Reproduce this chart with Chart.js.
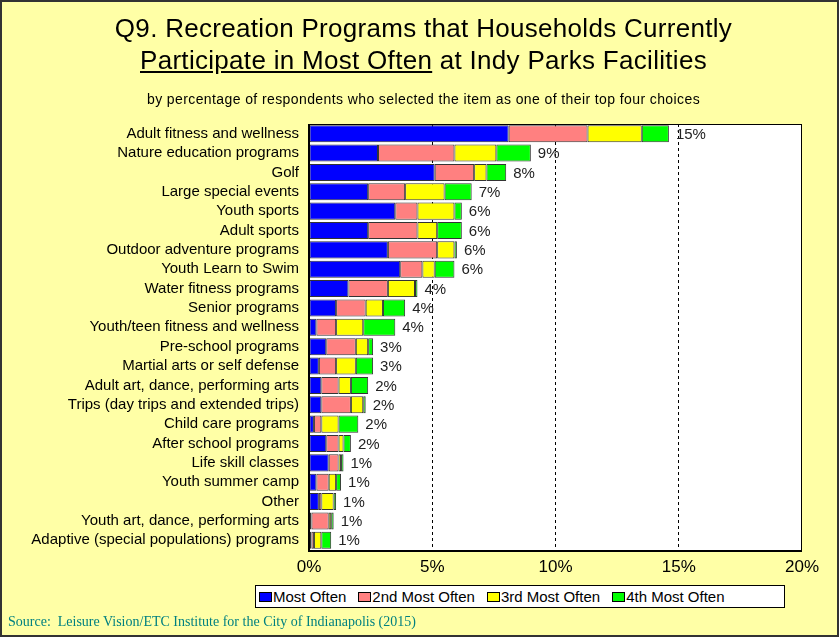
<!DOCTYPE html>
<html>
<head>
<meta charset="utf-8">
<script src="https://cdn.jsdelivr.net/npm/chart.js@4/dist/chart.umd.min.js"></script>
<style>
  body { margin: 0; }
  #wrap { position: relative; width: 839px; height: 637px; background: #FFFFA6; overflow: hidden; font-family: Arial, "Liberation Sans", sans-serif; }
  #frame { position: absolute; left: 0; top: 0; width: 839px; height: 637px; box-sizing: border-box; border: 2px solid #333; pointer-events: none; }
  canvas { position: absolute; left: 0; top: 0; }
  .title { position: absolute; left: 4px; width: 839px; text-align: center; font-size: 26px; letter-spacing: 0.3px; line-height: 32px; color: #000; }
  .sub { position: absolute; left: 4px; width: 839px; top: 90px; text-align: center; font-size: 14px; letter-spacing: 0.4px; line-height: 18px; color: #000; }
  #legend { position: absolute; left: 255px; top: 585px; width: 530px; height: 23px; box-sizing: border-box; background: #fff; border: 1px solid #000; display: flex; align-items: center; padding-left: 3px; gap: 12px; font-size: 15px; color: #000; }
  #legend span.sw { display: inline-block; width: 11px; height: 8px; border: 1px solid #000; margin-right: 1px; vertical-align: middle; position: relative; top: -1px; }
  #source { position: absolute; left: 8px; top: 614px; font-family: "Liberation Serif", "Times New Roman", serif; font-size: 14px; color: #008080; white-space: pre; }
</style>
</head>
<body>
<div id="wrap">
  <canvas id="chart" width="839" height="637"></canvas>
  <div class="title" style="top:12px">Q9. Recreation Programs that Households Currently</div>
  <div class="title" style="top:44px"><u>Participate in Most Often</u> at Indy Parks Facilities</div>
  <div class="sub">by percentage of respondents who selected the item as one of their top four choices</div>
  <div id="legend"></div>
  <div id="source">Source:  Leisure Vision/ETC Institute for the City of Indianapolis (2015)</div>
  <div id="frame"></div>
</div>
<script>
// Categories, top to bottom
const categories = [
    'Adult fitness and wellness',
    'Nature education programs',
    'Golf',
    'Large special events',
    'Youth sports',
    'Adult sports',
    'Outdoor adventure programs',
    'Youth Learn to Swim',
    'Water fitness programs',
    'Senior programs',
    'Youth/teen fitness and wellness',
    'Pre-school programs',
    'Martial arts or self defense',
    'Adult art, dance, performing arts',
    'Trips (day trips and extended trips)',
    'Child care programs',
    'After school programs',
    'Life skill classes',
    'Youth summer camp',
    'Other',
    'Youth art, dance, performing arts',
    'Adaptive (special populations) programs'
];

// Percent of respondents, per choice rank
const mostOften   = [8.1, 2.8, 5.1, 2.4, 3.5, 2.4, 3.2, 3.7, 1.6, 1.1, 0.3, 0.7, 0.4, 0.5, 0.5, 0.2, 0.7, 0.8, 0.3, 0.4, 0.1, 0.1];
const secondOften = [3.2, 3.1, 1.6, 1.5, 0.9, 2.0, 2.0, 0.9, 1.6, 1.2, 0.8, 1.2, 0.7, 0.7, 1.2, 0.3, 0.5, 0.4, 0.5, 0.1, 0.7, 0.1];
const thirdOften  = [2.2, 1.7, 0.5, 1.6, 1.5, 0.8, 0.7, 0.5, 1.1, 0.7, 1.1, 0.5, 0.8, 0.5, 0.5, 0.7, 0.2, 0.1, 0.3, 0.5, 0.1, 0.3];
const fourthOften = [1.1, 1.4, 0.8, 1.1, 0.3, 1.0, 0.1, 0.8, 0.1, 0.9, 1.3, 0.2, 0.7, 0.7, 0.1, 0.8, 0.3, 0.1, 0.2, 0.1, 0.1, 0.4];

// Total labels shown at bar ends
const totalLabels = ['15%', '9%', '8%', '7%', '6%', '6%', '6%', '6%', '4%', '4%', '4%', '3%', '3%', '2%', '2%', '2%', '2%', '1%', '1%', '1%', '1%', '1%'];

const xTicks = [0, 5, 10, 15, 20];

const seriesNames = ['Most Often', '2nd Most Often', '3rd Most Often', '4th Most Often'];
const seriesColors = ['#0000FF', '#FF8080', '#FFFF00', '#00FF00'];
const seriesData = [mostOften, secondOften, thirdOften, fourthOften];

// plot background + frame
const plotFrame = {
    id: 'plotFrame',
    beforeDraw(chart) {
        const a = chart.chartArea;
        const ctx = chart.ctx;
        ctx.save();
        ctx.fillStyle = '#fff';
        ctx.fillRect(a.left, a.top, a.right - a.left, a.bottom - a.top);
        ctx.restore();
    },
    afterDraw(chart) {
        const a = chart.chartArea;
        const ctx = chart.ctx;
        ctx.save();
        ctx.strokeStyle = '#000';
        ctx.lineWidth = 1;
        ctx.strokeRect(a.left + 0.5, a.top + 0.5, a.right - a.left - 1, a.bottom - a.top);
        ctx.lineWidth = 2;
        ctx.beginPath();
        ctx.moveTo(a.left, a.top);
        ctx.lineTo(a.left, a.bottom + 1);
        ctx.lineTo(a.right, a.bottom + 1);
        ctx.stroke();
        ctx.restore();
    }
};

// total labels after the last segment
const totalsPlugin = {
    id: 'totals',
    afterDatasetsDraw(chart) {
        const ctx = chart.ctx;
        const meta = chart.getDatasetMeta(chart.data.datasets.length - 1);
        ctx.save();
        ctx.font = '15px Arial, "Liberation Sans", sans-serif';
        ctx.fillStyle = '#222';
        ctx.textAlign = 'left';
        ctx.textBaseline = 'middle';
        meta.data.forEach((bar, i) => {
            ctx.fillText(totalLabels[i], bar.x + 7, bar.y + 1);
        });
        ctx.restore();
    }
};

const ctx = document.getElementById('chart').getContext('2d');
const chart = new Chart(ctx, {
    type: 'bar',
    data: {
        labels: categories,
        datasets: seriesData.map((d, i) => ({
            label: seriesNames[i],
            data: d,
            backgroundColor: seriesColors[i],
            borderColor: '#333',
            borderWidth: 1,
            borderSkipped: false,
            barPercentage: 0.88,
            categoryPercentage: 1
        }))
    },
    options: {
        indexAxis: 'y',
        responsive: false,
        animation: false,
        layout: {
            padding: { left: 0, top: 124, right: 37, bottom: 59 }
        },
        scales: {
            x: {
                stacked: true,
                min: 0,
                max: 20,
                afterBuildTicks: scale => { scale.ticks = xTicks.map(v => ({ value: v })); },
                afterFit: scale => { scale.height = 28; },
                ticks: {
                    callback: v => v + '%',
                    font: { family: 'Arial, "Liberation Sans", sans-serif', size: 17 },
                    color: '#000',
                    padding: 7,
                    maxRotation: 0
                },
                grid: {
                    drawTicks: false,
                    color: c => (c.tick && (c.tick.value === 0 || c.tick.value === 20)) ? 'rgba(0,0,0,0)' : '#000',
                    lineWidth: 1
                },
                border: { display: false, dash: [3, 3] }
            },
            y: {
                stacked: true,
                afterFit: scale => { scale.width = 309; },
                ticks: {
                    font: { family: 'Arial, "Liberation Sans", sans-serif', size: 15 },
                    color: '#000',
                    padding: 10,
                    autoSkip: false
                },
                grid: { display: false, drawTicks: false },
                border: { display: false }
            }
        },
        plugins: {
            legend: { display: false },
            tooltip: { enabled: false }
        }
    },
    plugins: [plotFrame, totalsPlugin]
});

// legend in a white box
const legendEl = document.getElementById('legend');
seriesNames.forEach((name, i) => {
    const item = document.createElement('div');
    item.innerHTML = '<span class="sw" style="background:' + seriesColors[i] + '"></span>' + name;
    legendEl.appendChild(item);
});
</script>
</body>
</html>
